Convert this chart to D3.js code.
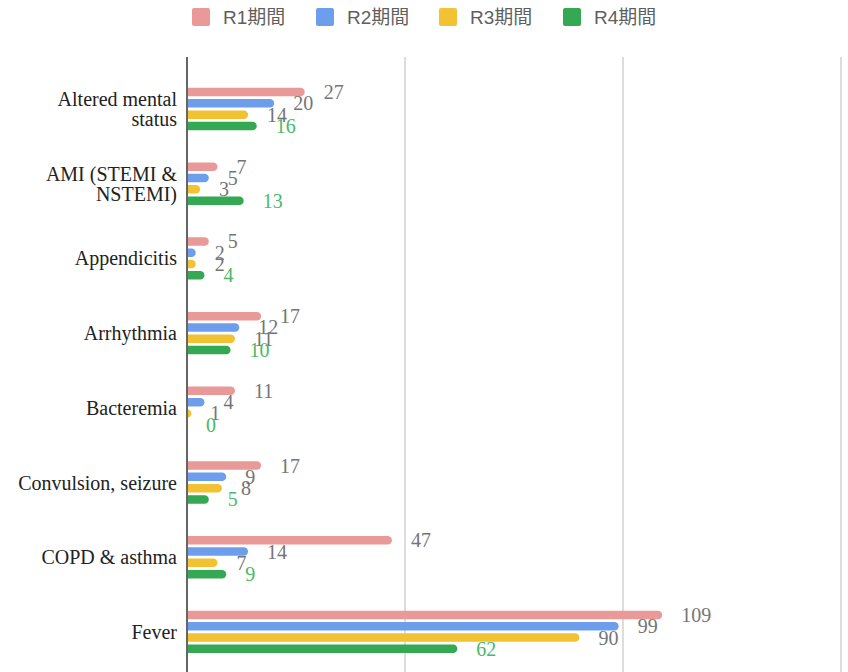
<!DOCTYPE html>
<html>
<head>
<meta charset="utf-8">
<script src="https://cdn.jsdelivr.net/npm/d3@7"></script>
<style>
  html, body { margin: 0; padding: 0; background: #fff; }
  svg { display: block; }
</style>
</head>
<body>
<svg id="chart" width="848" height="672"></svg>
<script>
const categories = [
  ["Altered mental", "status"],
  ["AMI (STEMI &", "NSTEMI)"],
  ["Appendicitis"],
  ["Arrhythmia"],
  ["Bacteremia"],
  ["Convulsion, seizure"],
  ["COPD & asthma"],
  ["Fever"]
];
const seriesNames = ["R1期間", "R2期間", "R3期間", "R4期間"];
const r1 = [27, 7, 5, 17, 11, 17, 47, 109];
const r2 = [20, 5, 2, 12, 4, 9, 14, 99];
const r3 = [14, 3, 2, 11, 1, 8, 7, 90];
const r4 = [16, 13, 4, 10, 0, 5, 9, 62];
const xTicks = [0, 50, 100, 150];
const colors = ["#ea9999", "#6d9eeb", "#f1c232", "#34a853"];
const labelColors = ["#757575", "#757575", "#757575", "#4cb866"];

const seriesValues = [r1, r2, r3, r4];
const catKeys = categories.map(c => c.join(" "));

const svg = d3.select("#chart");
const x = d3.scaleLinear().domain([0, 150]).range([187, 841]);
const step = 74.7;
const y0 = 109 - step / 2;
const y = d3.scaleBand().domain(catKeys).range([y0, y0 + step * catKeys.length]).padding(0);
const inner = d3.scaleBand().domain(seriesNames).range([-21.2, 21.2]).paddingInner(0.248).paddingOuter(0);

const plotTop = 57, plotBottom = 720;

// gridlines
svg.append("g").selectAll("line").data(xTicks.filter(t => t > 0)).join("line")
  .attr("x1", d => x(d)).attr("x2", d => x(d))
  .attr("y1", plotTop).attr("y2", plotBottom)
  .attr("stroke", "#dddddd").attr("stroke-width", 2);

// clip for bars
svg.append("defs").append("clipPath").attr("id", "plotclip")
  .append("rect").attr("x", x(0)).attr("y", 0).attr("width", 848).attr("height", 800);

const barsG = svg.append("g").attr("clip-path", "url(#plotclip)");
const labelsG = svg.append("g");

seriesNames.forEach((s, si) => {
  const vals = seriesValues[si];
  const data = catKeys.map((k, i) => ({ k, v: vals[i] }));
  const bh = inner.bandwidth();
  const cy = d => y(d.k) + y.bandwidth() / 2 + inner(s) + bh / 2;
  barsG.append("g").selectAll("rect").data(data.filter(d => d.v > 0)).join("rect")
    .attr("x", x(0) - bh)
    .attr("y", d => cy(d) - bh / 2)
    .attr("width", d => x(d.v) - x(0) + bh)
    .attr("height", bh)
    .attr("rx", bh / 2).attr("ry", bh / 2)
    .attr("fill", colors[si]);
  labelsG.append("g").selectAll("text").data(data).join("text")
    .attr("x", d => x(d.v) + 19)
    .attr("y", d => cy(d))
    .attr("dy", "0.35em")
    .attr("font-family", "'Liberation Serif', 'Times New Roman', serif")
    .attr("font-size", 20)
    .attr("fill", labelColors[si])
    .text(d => d.v);
});

// axis line
svg.append("line")
  .attr("x1", x(0)).attr("x2", x(0))
  .attr("y1", plotTop).attr("y2", plotBottom)
  .attr("stroke", "#666666").attr("stroke-width", 2);

// category labels
const catG = svg.append("g");
categories.forEach((lines, i) => {
  const cyc = y(catKeys[i]) + y.bandwidth() / 2;
  const lh = 20;
  const t = catG.append("text")
    .attr("text-anchor", "end")
    .attr("font-family", "'Liberation Serif', 'Times New Roman', serif")
    .attr("font-size", 20)
    .attr("fill", "#222222");
  lines.forEach((ln, j) => {
    t.append("tspan")
      .attr("x", 177)
      .attr("y", cyc + (j - (lines.length - 1) / 2) * lh)
      .attr("dy", "0.35em")
      .text(ln);
  });
});

// legend
const legendX = [192, 316, 439, 563];
const lg = svg.append("g");
seriesNames.forEach((s, i) => {
  lg.append("rect")
    .attr("x", legendX[i]).attr("y", 8)
    .attr("width", 18).attr("height", 18)
    .attr("rx", 2).attr("fill", colors[i]);
  lg.append("text")
    .attr("x", legendX[i] + 31).attr("y", 17)
    .attr("dy", "0.35em")
    .attr("font-family", "'Liberation Sans', Arial, 'Noto Sans CJK JP', sans-serif")
    .attr("font-size", 19)
    .attr("fill", "#5f5f5f")
    .text(s);
});
</script>
</body>
</html>
